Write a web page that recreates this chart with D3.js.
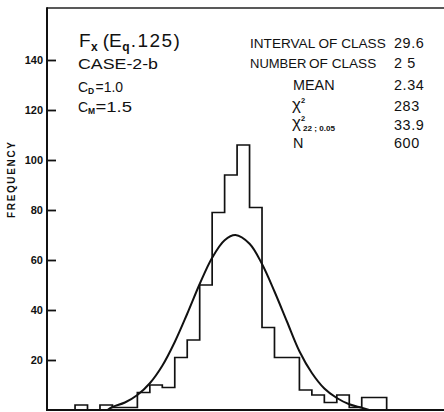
<!DOCTYPE html>
<html>
<head>
<meta charset="utf-8">
<script src="https://cdn.jsdelivr.net/npm/d3@7"></script>
<style>
  html, body { margin: 0; padding: 0; background: #fff; }
  svg { display: block; }
  text { font-family: "Liberation Sans", Arial, sans-serif; fill: #111; }
</style>
</head>
<body>
<div id="vis"></div>
<script>
// frequency per class (25 classes, interval 29.6)
const classFreq = [2, 0, 2, 1, 1, 7, 10, 9, 21, 28, 50, 79, 94, 106, 81, 33, 21, 21, 8, 6, 3, 6, 1, 5, 5];
// fitted curve (x in class units)
const curveX = [2.6, 3, 4, 5, 6, 7, 8, 9, 10, 11, 12, 12.87, 14, 15, 16, 17, 18, 19, 20, 21, 22, 23, 23.6];
const curveY = [0, 1.2, 3, 6, 10.7, 17.7, 27.2, 38.5, 50.4, 60.9, 67.9, 70, 66.5, 58.4, 47.4, 35.4, 23.5, 14.8, 8.6, 4.8, 2.3, 0.9, 0];
const yTicks = [20, 40, 60, 80, 100, 120, 140];

const W = 444, H = 412;
const svg = d3.select("#vis").append("svg").attr("width", W).attr("height", H);

const x = d3.scaleLinear().domain([-2.25, 29.6]).range([47, 444]);
const y = d3.scaleLinear().domain([0, 160.8]).range([410, 8]);

// frame: left axis, top line, baseline
svg.append("line").attr("x1", 47).attr("x2", 444).attr("y1", y(160.8)).attr("y2", y(160.8))
  .attr("stroke", "#222").attr("stroke-width", 1.5);
svg.append("line").attr("x1", x(-2.25)).attr("x2", x(-2.25)).attr("y1", y(160.8) - 0.7).attr("y2", y(0) + 1)
  .attr("stroke", "#111").attr("stroke-width", 2);
svg.append("line").attr("x1", 47).attr("x2", 444).attr("y1", y(0)).attr("y2", y(0))
  .attr("stroke", "#111").attr("stroke-width", 2);

// y ticks pointing inward
const yAxis = d3.axisRight(y).tickValues(yTicks).tickSize(9).tickFormat("");
const ga = svg.append("g").attr("transform", `translate(${x(-2.25)},0)`).call(yAxis);
ga.select(".domain").remove();
ga.selectAll(".tick line").attr("stroke", "#111").attr("stroke-width", 1.8);

svg.append("g").selectAll("text").data(yTicks).join("text")
  .attr("x", 43).attr("y", d => y(d)).attr("dy", "0.36em")
  .attr("text-anchor", "end").attr("font-size", 11).attr("font-weight", "bold")
  .text(d => d);

svg.append("text")
  .attr("transform", "translate(15,180) rotate(-90)")
  .attr("text-anchor", "middle").attr("font-size", 10).attr("font-weight", "bold")
  .attr("textLength", 76).attr("lengthAdjust", "spacing")
  .text("FREQUENCY");

// histogram outline
const pts = [[0, 0]];
classFreq.forEach((f, i) => { pts.push([i, f]); pts.push([i + 1, f]); });
pts.push([classFreq.length, 0]);
svg.append("path")
  .attr("d", d3.line().x(d => x(d[0])).y(d => y(d[1]))(pts))
  .attr("fill", "none").attr("stroke", "#111").attr("stroke-width", 1.7)
  .attr("stroke-linejoin", "miter");

// fitted curve
svg.append("path")
  .attr("d", d3.line().curve(d3.curveCatmullRom).x((d, i) => x(d)).y((d, i) => y(curveY[i]))(curveX))
  .attr("fill", "none").attr("stroke", "#111").attr("stroke-width", 2);

// left text block
const t1 = svg.append("text").attr("x", 79).attr("y", 47).attr("font-size", 19);
t1.append("tspan").text("F");
t1.append("tspan").attr("dx", 0.5).attr("dy", 4).attr("font-size", 12).attr("font-weight", "bold").text("x");
t1.append("tspan").attr("dx", 5).attr("dy", -4).text("(E");
t1.append("tspan").attr("dx", 0.5).attr("dy", 4).attr("font-size", 12).attr("font-weight", "bold").text("q");
t1.append("tspan").attr("dx", 1).attr("dy", -4).attr("letter-spacing", 1.5).text(".125)");

svg.append("text").attr("x", 78).attr("y", 69).attr("font-size", 14)
  .attr("textLength", 80).attr("lengthAdjust", "spacingAndGlyphs").text("CASE-2-b");

function coef(yy, sub, val, endX) {
  const t = svg.append("text").attr("y", yy).attr("font-size", 14);
  t.append("tspan").attr("x", 78).text("C");
  t.append("tspan").attr("x", 88).attr("dy", 2).attr("font-size", 8.5).attr("font-weight", "bold").text(sub);
  t.append("tspan").attr("x", 95.5).attr("dy", -2).attr("textLength", endX - 95.5).attr("lengthAdjust", "spacingAndGlyphs").text(val);
}
coef(92, "D", "=1.0", 123);
coef(112, "M", "=1.5", 132);

// right text block
const valX = 394, fs = 14.4;
function row(yy, label, lx, val, size) {
  svg.append("text").attr("x", lx).attr("y", yy).attr("font-size", size || fs).text(label);
  svg.append("text").attr("x", valX).attr("y", yy).attr("font-size", fs)
    .attr("letter-spacing", 0.6).text(val);
}
row(48, "INTERVAL OF CLASS", 250, "29.6", 13.6);
svg.append("text").attr("x", 250).attr("y", 68).attr("font-size", 13).text("NUMBER");
row(68, "OF CLASS", 309, "2 5", 13.6);
row(90, "MEAN", 293, "2.34");

const chi1 = svg.append("text").attr("x", 292).attr("y", 110).attr("font-size", 17);
chi1.append("tspan").text("χ");
chi1.append("tspan").attr("dy", -7).attr("font-size", 7.5).attr("font-weight", "bold").text("2");
svg.append("text").attr("x", valX).attr("y", 111).attr("font-size", fs)
  .attr("letter-spacing", 0.6).text("283");

const chi2 = svg.append("text").attr("x", 292).attr("y", 128).attr("font-size", 17);
chi2.append("tspan").text("χ");
chi2.append("tspan").attr("dy", -7).attr("font-size", 7.5).attr("font-weight", "bold").text("2");
chi2.append("tspan").attr("x", 303).attr("dy", 10).attr("font-size", 7).attr("font-weight", "bold")
  .attr("textLength", 32).attr("lengthAdjust", "spacingAndGlyphs").text("22 ; 0.05");
svg.append("text").attr("x", valX).attr("y", 130).attr("font-size", fs)
  .attr("letter-spacing", 0.6).text("33.9");

row(148, "N", 293, "600");
</script>
</body>
</html>
